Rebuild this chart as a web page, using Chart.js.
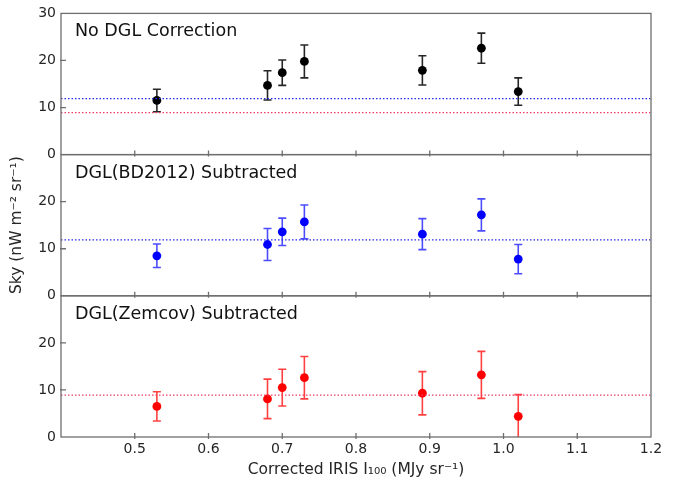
<!DOCTYPE html>
<html>
<head>
<meta charset="utf-8">
<script src="https://cdn.jsdelivr.net/npm/chart.js@4.4.1/dist/chart.umd.min.js"></script>
<style>
  html, body { margin: 0; padding: 0; background: #fff; }
  #marco { width: 678px; height: 479px; }
</style>
</head>
<body>
<div id="marco"><canvas id="grafico"></canvas></div>
<script>
// datos
var xIris = [0.53, 0.68, 0.70, 0.73, 0.89, 0.97, 1.02];
var skyNoDgl = [11.5, 14.7, 17.4, 19.8, 17.9, 22.6, 13.4];
var errNoDgl = [2.4, 3.1, 2.7, 3.5, 3.1, 3.2, 2.9];
var skyBd2012 = [8.5, 10.9, 13.6, 15.7, 13.1, 17.2, 7.8];
var errBd2012 = [2.5, 3.4, 2.9, 3.6, 3.3, 3.4, 3.1];
var skyZemcov = [6.5, 8.1, 10.5, 12.6, 9.3, 13.2, 4.4];
var errZemcov = [3.1, 4.2, 3.9, 4.5, 4.6, 5.0, 4.6];
var nivelBd2012 = 11.9;
var nivelZemcov = 8.9;
var titulos = ['No DGL Correction', 'DGL(BD2012) Subtracted', 'DGL(Zemcov) Subtracted'];
var xMin = 0.4, xMax = 1.2;
var yMin = 0, yMax = 30;

var fuente = 'DejaVu Sans';
var texto = '#262626';
var borde = '#6e6e6e';

function puntos(valores) {
    var salida = [];
    for (let i = 0; i < xIris.length; i++) {
        salida.push({ x: xIris[i], y: valores[i] });
    }
    return salida;
}

function nivel(valor, color, eje) {
    return {
        type: 'line',
        data: [{ x: xMin, y: valor }, { x: xMax, y: valor }],
        borderColor: color,
        borderWidth: 1.3,
        borderDash: [1.5, 2],
        pointRadius: 0,
        yAxisID: eje
    };
}

function serie(valores, errores, color, barra, eje) {
    return {
        type: 'scatter',
        data: puntos(valores),
        errores: errores,
        colorBarra: barra,
        backgroundColor: color,
        borderColor: color,
        pointRadius: 4.4,
        pointBorderWidth: 0,
        yAxisID: eje
    };
}

function ejeY(titulo, nombre) {
    return {
        type: 'linear',
        position: 'left',
        stack: 'paneles',
        stackWeight: 1,
        min: yMin,
        max: yMax,
        grid: { display: false, drawTicks: false, tickLength: 0 },
        border: { display: false },
        ticks: {
            stepSize: 10,
            padding: 5,
            color: texto,
            font: { family: fuente, size: 14 },
            callback: function (v) {
                if (v == 30 && nombre != 'yArriba') return '';
                return v;
            }
        },
        title: {
            display: titulo,
            text: 'Sky (nW m\u207B\u00B2 sr\u207B\u00B9)',
            color: texto,
            font: { family: fuente, size: 15.5 },
            padding: { top: 8, bottom: 0 }
        },
        afterFit: function (scale) { scale.width = 61; }
    };
}

var errorBars = {
    id: 'errorBars',
    beforeDatasetsDraw: function (chart) {
        var ctx = chart.ctx;
        var xs = chart.scales.x;
        chart.data.datasets.forEach(function (ds) {
            if (!ds.errores) return;
            var ys = chart.scales[ds.yAxisID];
            ctx.save();
            ctx.beginPath();
            ctx.rect(chart.chartArea.left, ys.top, chart.chartArea.right - chart.chartArea.left, ys.bottom - ys.top);
            ctx.clip();
            ctx.strokeStyle = ds.colorBarra;
            ctx.lineWidth = 1.6;
            for (let i = 0; i < ds.data.length; i++) {
                var px = xs.getPixelForValue(ds.data[i].x);
                var arriba = ys.getPixelForValue(ds.data[i].y + ds.errores[i]);
                var abajo = ys.getPixelForValue(ds.data[i].y - ds.errores[i]);
                ctx.beginPath();
                ctx.moveTo(px, arriba);
                ctx.lineTo(px, abajo);
                ctx.moveTo(px - 4, arriba);
                ctx.lineTo(px + 4, arriba);
                ctx.moveTo(px - 4, abajo);
                ctx.lineTo(px + 4, abajo);
                ctx.stroke();
            }
            ctx.restore();
        });
    }
};

var paneles = {
    id: 'paneles',
    afterDraw: function (chart) {
        var ctx = chart.ctx;
        var area = chart.chartArea;
        var xs = chart.scales.x;
        var ejes = ['yArriba', 'yMedio', 'yAbajo'];
        ctx.save();
        ctx.strokeStyle = borde;
        ctx.lineWidth = 1.3;
        ejes.forEach(function (id, n) {
            var ys = chart.scales[id];
            ctx.strokeRect(area.left, ys.top, area.right - area.left, ys.bottom - ys.top);
            ctx.beginPath();
            xs.ticks.forEach(function (t) {
                if (t.value <= xMin + 0.01 || t.value >= xMax - 0.01) return;
                var px = xs.getPixelForValue(t.value);
                ctx.moveTo(px, ys.bottom + 2);
                ctx.lineTo(px, ys.bottom - 4);
            });
            ys.ticks.forEach(function (t) {
                if (t.value <= yMin || t.value >= yMax) return;
                var py = ys.getPixelForValue(t.value);
                ctx.moveTo(area.left - 1, py);
                ctx.lineTo(area.left + 5, py);
            });
            ctx.stroke();
            ctx.fillStyle = '#111';
            ctx.font = '17.5px "' + fuente + '"';
            ctx.textAlign = 'left';
            ctx.textBaseline = 'alphabetic';
            ctx.fillText(titulos[n], area.left + 14, ys.top + 23);
        });
        ctx.restore();
    }
};

var ctx = document.getElementById('grafico').getContext('2d');
var grafico = new Chart(ctx, {
    data: {
        datasets: [
            nivel(nivelBd2012, 'rgb(40,40,235)', 'yArriba'),
            nivel(nivelZemcov, 'rgb(240,60,100)', 'yArriba'),
            nivel(nivelBd2012, 'rgb(40,40,235)', 'yMedio'),
            nivel(nivelZemcov, 'rgb(240,60,100)', 'yAbajo'),
            serie(skyNoDgl, errNoDgl, '#000000', 'rgba(0,0,0,0.85)', 'yArriba'),
            serie(skyBd2012, errBd2012, '#0000ff', 'rgba(0,0,255,0.7)', 'yMedio'),
            serie(skyZemcov, errZemcov, '#ff0000', 'rgba(255,0,0,0.75)', 'yAbajo')
        ]
    },
    options: {
        responsive: true,
        maintainAspectRatio: false,
        animation: false,
        layout: { padding: { top: 13, right: 27, left: 0, bottom: 0 } },
        plugins: { legend: { display: false }, tooltip: { enabled: false } },
        scales: {
            x: {
                type: 'linear',
                min: xMin,
                max: xMax,
                grid: { display: false, drawTicks: false, tickLength: 0 },
                border: { display: false },
                ticks: {
                    stepSize: 0.1,
                    padding: 4,
                    color: texto,
                    font: { family: fuente, size: 14 },
                    callback: function (v) {
                        if (v < 0.45) return '';
                        return Number(v).toFixed(1);
                    }
                },
                title: {
                    display: true,
                    text: 'Corrected IRIS I\u2081\u2080\u2080 (MJy sr\u207B\u00B9)',
                    color: texto,
                    font: { family: fuente, size: 15.5 },
                    padding: { top: 2, bottom: 0 }
                },
                afterFit: function (scale) { scale.height = 42; }
            },
            yAbajo: ejeY(false, 'yAbajo'),
            yMedio: ejeY(true, 'yMedio'),
            yArriba: ejeY(false, 'yArriba')
        }
    },
    plugins: [errorBars, paneles]
});
</script>
</body>
</html>
